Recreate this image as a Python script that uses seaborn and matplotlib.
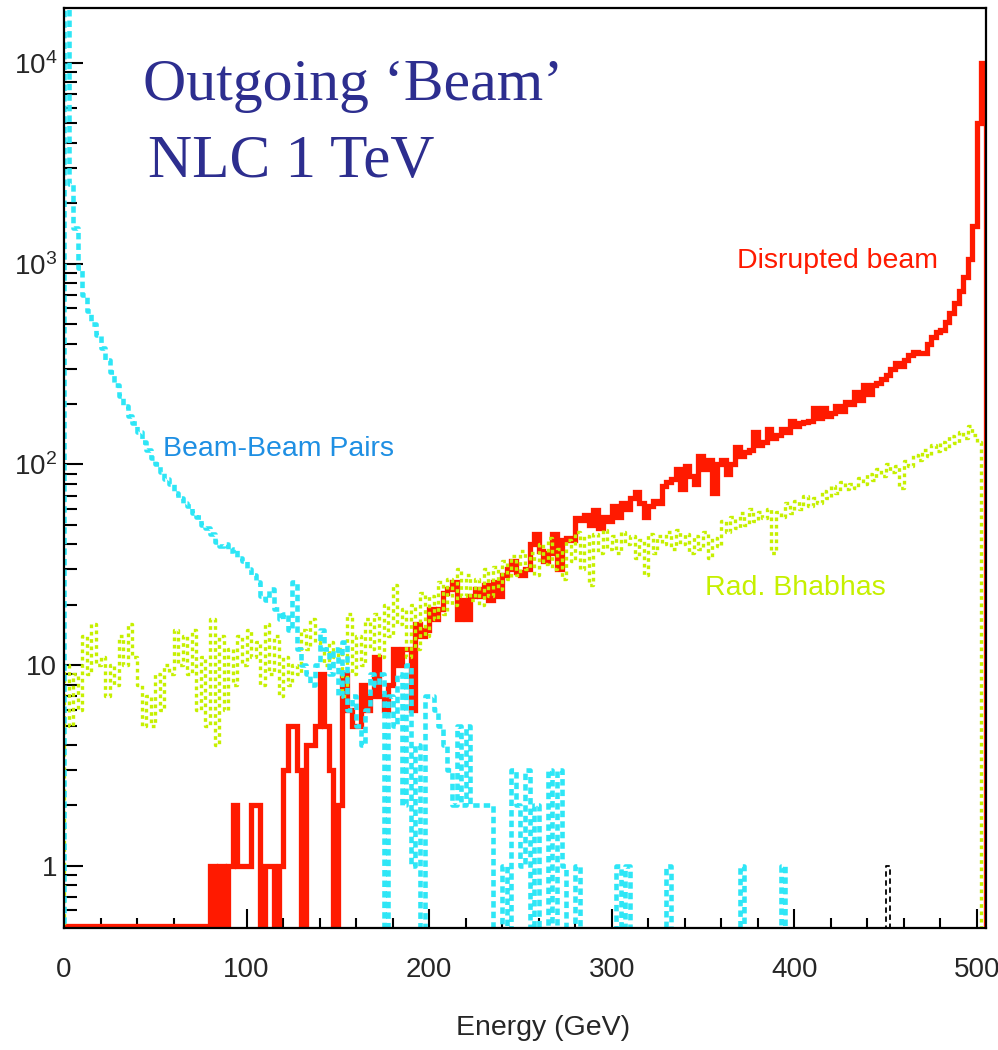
import numpy as np
import pandas as pd
import matplotlib
matplotlib.use("Agg")
import matplotlib.pyplot as plt
import seaborn as sns
from matplotlib.ticker import MultipleLocator, FixedLocator, LogLocator, NullFormatter

# ---------------------------------------------------------------------------
# Energy spectra of the outgoing beam, NLC 1 TeV, 2.5 GeV bins from 0 to 505 GeV
# ---------------------------------------------------------------------------
BIN_WIDTH = 2.5
E_MIN, E_MAX = 0.0, 505.0

# Disrupted beam (counts per bin)
disrupted_beam = [
    0, 0, 0, 0, 0, 0, 0, 0, 0, 0,            # 0 - 22.5
    0, 0, 0, 0, 0, 0, 0, 0, 0, 0,            # 25 - 47.5
    0, 0, 0, 0, 0, 0, 0, 0, 0, 0,            # 50 - 72.5
    0, 0, 1, 0, 1, 0, 1, 2, 1, 1,            # 75 - 97.5
    1, 2, 2, 0, 1, 1, 0, 1, 3, 5,            # 100 - 122.5
    5, 3, 0, 4, 4, 5, 9, 5, 3, 0,            # 125 - 147.5
    2, 9, 6, 5, 5, 8, 6, 7, 11, 7,           # 150 - 172.5
    6, 8, 12, 10, 12, 12, 6, 16, 14, 15,     # 175 - 197.5
    19, 17, 19, 23, 24, 26, 17, 21, 17, 22,  # 200 - 222.5
    24, 22, 25, 21, 26, 22, 28, 30, 33, 29,  # 225 - 247.5
    28, 30, 40, 45, 37, 33, 36, 45, 30, 42,  # 250 - 272.5
    43, 42, 54, 53, 56, 50, 59, 48, 55, 52,  # 275 - 297.5
    62, 55, 64, 60, 68, 73, 64, 55, 62, 66,  # 300 - 322.5
    64, 78, 82, 85, 95, 75, 98, 88, 80, 110, # 325 - 347.5
    95, 105, 72, 100, 105, 90, 100, 122, 110, 115,   # 350 - 372.5
    118, 145, 125, 130, 150, 135, 140, 150, 145, 165,  # 375 - 397.5
    155, 160, 163, 165, 190, 170, 190, 175, 180, 195,  # 400 - 422.5
    185, 205, 200, 230, 210, 250, 225, 250, 255, 265,  # 425 - 447.5
    280, 300, 320, 310, 330, 350, 365, 360, 360, 400,  # 450 - 472.5
    430, 455, 470, 510, 570, 640, 730, 860, 1050, 1550,  # 475 - 497.5
    5000, 10000,                                        # 500 - 502.5
]

# Beam-beam pairs (counts per bin)
beam_pairs = [
    30000, 2500, 1500, 950, 700, 580, 500, 440, 380, 330,   # 0 - 22.5
    290, 250, 220, 195, 175, 160, 145, 130, 118, 108,       # 25 - 47.5
    100, 92, 85, 80, 72, 68, 64, 62, 57, 55,                # 50 - 72.5
    50, 48, 45, 41, 39, 40, 37, 38, 34, 33,                 # 75 - 97.5
    30, 28, 26, 22, 21, 24, 19, 17, 18, 15,                 # 100 - 122.5
    26, 12, 10, 9, 8, 10, 15, 12, 9, 12,                    # 125 - 147.5
    7, 13, 6, 7, 5, 4, 6, 9, 8, 9,                          # 150 - 172.5
    0, 7, 5, 9, 2, 10, 1, 4, 0, 7,                          # 175 - 197.5
    7, 6, 5, 4, 3, 2, 5, 2, 5, 2,                           # 200 - 222.5
    2, 2, 2, 2, 0, 0, 1, 0, 3, 2,                           # 225 - 247.5
    1, 3, 0, 2, 0, 0, 3, 0, 3, 1,                           # 250 - 272.5
    0, 0, 1, 0, 0, 0, 0, 0, 0, 0,                           # 275 - 297.5
    0, 1, 0, 1, 0, 0, 0, 0, 0, 0,                           # 300 - 322.5
    0, 0, 1, 0, 0, 0, 0, 0, 0, 0,                           # 325 - 347.5
    0, 0, 0, 0, 0, 0, 0, 0, 1, 0,                           # 350 - 372.5
    0, 0, 0, 0, 0, 0, 0, 1, 0, 0,                           # 375 - 397.5
    0, 0, 0, 0, 0, 0, 0, 0, 0, 0,                           # 400 - 422.5
    0, 0, 0, 0, 0, 0, 0, 0, 0, 0,                           # 425 - 447.5
    0, 0, 0, 0, 0, 0, 0, 0, 0, 0,                           # 450 - 472.5
    0, 0, 0, 0, 0, 0, 0, 0, 0, 0,                           # 475 - 497.5
    0, 0,                                                   # 500 - 502.5
]

# Radiative Bhabhas (counts per bin)
rad_bhabhas = [
    10, 5, 9, 6, 14, 9, 16, 10, 11, 7,          # 0 - 22.5
    10, 8, 14, 10, 16, 11, 8, 5, 7, 5,          # 25 - 47.5
    9, 6, 10, 9, 15, 10, 14, 9, 15, 6,          # 50 - 72.5
    11, 5, 17, 4, 14, 6, 12, 8, 14, 10,         # 75 - 97.5
    15, 11, 13, 8, 16, 9, 14, 7, 11, 8,         # 100 - 122.5
    10, 9, 15, 12, 17, 13, 12, 10, 13, 11,      # 125 - 147.5
    12, 7, 18, 9, 14, 10, 17, 12, 18, 11,       # 150 - 172.5
    20, 14, 25, 16, 19, 11, 20, 12, 23, 14,     # 175 - 197.5
    22, 17, 26, 18, 27, 20, 30, 22, 28, 21,     # 200 - 222.5
    27, 20, 30, 22, 31, 24, 33, 27, 35, 28,     # 225 - 247.5
    37, 30, 36, 28, 40, 32, 43, 30, 38, 27,     # 250 - 272.5
    42, 33, 46, 30, 44, 25, 45, 36, 47, 38,     # 275 - 297.5
    44, 36, 46, 40, 44, 34, 42, 28, 45, 36,     # 300 - 322.5
    44, 40, 46, 38, 47, 40, 45, 36, 44, 38,     # 325 - 347.5
    46, 34, 43, 39, 52, 46, 55, 48, 57, 50,     # 350 - 372.5
    60, 52, 58, 54, 60, 36, 58, 55, 64, 57,     # 375 - 397.5
    66, 60, 70, 62, 68, 64, 74, 68, 78, 72,     # 400 - 422.5
    82, 75, 80, 76, 86, 80, 90, 84, 95, 88,     # 425 - 447.5
    100, 92, 98, 76, 104, 98, 112, 105, 118, 110,   # 450 - 472.5
    125, 116, 130, 120, 138, 128, 145, 136, 155, 140,  # 475 - 497.5
    130, 0,                                            # 500 - 502.5
]

# Single stray entry (black dashed histogram)
stray_bin_start = [450.0]
stray_counts = [1]

# Axis ticks and labels
x_major = [0, 100, 200, 300, 400, 500]
y_major = [1, 10, 100, 1000, 10000]
y_labels = ["1", "10", r"$\mathregular{10^{2}}$", r"$\mathregular{10^{3}}$", r"$\mathregular{10^{4}}$"]
Y_LIM = (0.49, 1.88e4)

# ---------------------------------------------------------------------------
sns.set_style("white")
plt.rcParams["font.family"] = ["Liberation Sans", "DejaVu Sans"]
plt.rcParams["mathtext.fontset"] = "custom"
plt.rcParams["mathtext.rm"] = "Liberation Sans"

W, H = 998, 1050
fig = plt.figure(figsize=(W / 100, H / 100), dpi=100)
ax = fig.add_axes([64 / W, 1 - 928 / H, 922 / W, 920 / H])
ax.set_yscale("log")

edges = np.arange(E_MIN, E_MAX + BIN_WIDTH / 2, BIN_WIDTH)


def draw_hist(counts, floor, bin_edges=edges, **style):
    """Step outline of a binned spectrum; empty bins sit at `floor`."""
    vals = np.clip(np.asarray(counts, dtype=float), floor, None)
    # empty guard bins on both sides so the outline rises from / returns to the floor
    e = np.concatenate([[bin_edges[0] - BIN_WIDTH], bin_edges, [bin_edges[-1] + BIN_WIDTH]])
    v = np.concatenate([[floor], vals, [floor]])
    df = pd.DataFrame({"energy": 0.5 * (e[:-1] + e[1:]), "count": v})
    sns.histplot(data=df, x="energy", weights="count", bins=list(e),
                 element="step", fill=False, ax=ax, **style)


draw_hist(disrupted_beam, 0.5, color="#FF1A00", linewidth=3.8,
          solid_joinstyle="miter", zorder=3)
draw_hist(rad_bhabhas, 0.3, color="#C6F000", linewidth=2.4,
          linestyle=(0, (1.1, 1.1)), dash_capstyle="butt", zorder=4)
draw_hist(beam_pairs, 0.3, color="#2EE6F6", linewidth=3.3,
          linestyle=(0, (1.4, 0.9)), dash_capstyle="butt", zorder=5)

stray_edges = np.array([stray_bin_start[0] + k * BIN_WIDTH for k in range(2)])
draw_hist(stray_counts, 0.3, bin_edges=stray_edges, color="black",
          linewidth=1.3, linestyle=(0, (3, 2)), zorder=4)

ax.set_xlim(E_MIN, E_MAX)
ax.set_ylim(*Y_LIM)

# axes styling
for side in ["left", "right", "top", "bottom"]:
    ax.spines[side].set_visible(True)
    ax.spines[side].set_color("black")
    ax.spines[side].set_linewidth(1.6)
    ax.spines[side].set_zorder(6)

ax.xaxis.set_major_locator(FixedLocator(x_major))
ax.xaxis.set_minor_locator(MultipleLocator(20))
ax.yaxis.set_major_locator(FixedLocator(y_major))
ax.set_yticklabels(y_labels)
ax.yaxis.set_minor_locator(LogLocator(base=10, subs=np.arange(2, 10), numticks=20))
ax.yaxis.set_minor_formatter(NullFormatter())

ax.tick_params(which="both", direction="in", top=False, right=False,
               left=True, bottom=True, color="black", width=1.5)
ax.tick_params(axis="y", which="major", length=14, pad=5, labelsize=20)
ax.tick_params(axis="y", which="minor", length=9)
ax.tick_params(axis="x", which="major", length=14, pad=21, labelsize=20)
ax.tick_params(axis="x", which="minor", length=7)

ax.set_ylabel("")
ax.set_xlabel("Energy (GeV)", fontsize=20.5)
ax.xaxis.set_label_coords(0.52, -0.095)

# annotations
fig.text(143 / W, 1 - 100 / H, "Outgoing \u2018Beam\u2019", family="Liberation Serif",
         fontsize=43, color="#2D2E8F", va="baseline", ha="left")
fig.text(148 / W, 1 - 177 / H, "NLC 1 TeV", family="Liberation Serif",
         fontsize=44, color="#2D2E8F", va="baseline", ha="left")
fig.text(737 / W, 1 - 261 / H, "Disrupted beam", fontsize=20.5, color="#FF1A00",
         va="center", ha="left")
fig.text(163 / W, 1 - 449 / H, "Beam-Beam Pairs", fontsize=20.5, color="#1E8FE3",
         va="center", ha="left")
fig.text(705 / W, 1 - 588 / H, "Rad. Bhabhas", fontsize=20.5, color="#C6F000",
         va="center", ha="left")

fig.savefig("out.png", dpi=100)
